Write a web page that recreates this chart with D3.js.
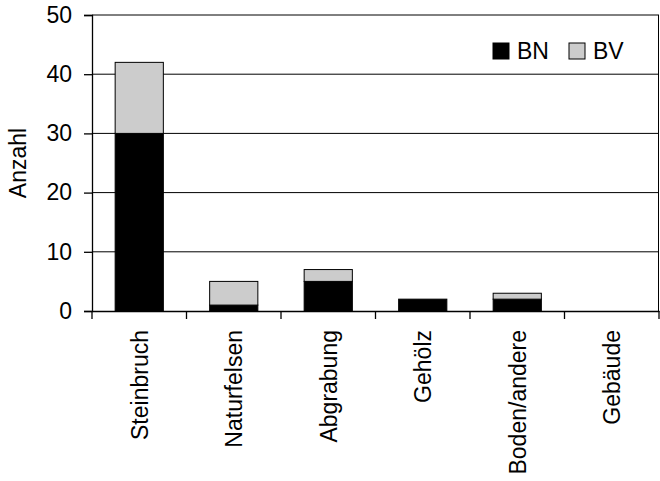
<!DOCTYPE html>
<html>
<head>
<meta charset="utf-8">
<script src="https://cdn.jsdelivr.net/npm/d3@7"></script>
<style>
  body { margin: 0; background: #fff; }
  text { font-family: "Liberation Sans", Arial, sans-serif; fill: #000; }
</style>
</head>
<body>
<div id="chart"></div>
<script>
// chart data
const categories = ['Steinbruch', 'Naturfelsen', 'Abgrabung', 'Gehölz', 'Boden/andere', 'Gebäude'];
const bnValues = [30, 1, 5, 2, 2, 0];
const bvValues = [12, 4, 2, 0, 1, 0];
const yTicks = [0, 10, 20, 30, 40, 50];
const seriesNames = ['BN', 'BV'];
const seriesColors = ['#000000', '#cccccc'];

const width = 660, height = 481;
const margin = {top: 15, right: 1, bottom: 170, left: 92};
const fontSize = 23;

const svg = d3.select('#chart')
    .append('svg')
    .attr('width', width)
    .attr('height', height);

const x = d3.scaleBand()
    .domain(categories)
    .range([margin.left, width - margin.right])
    .paddingInner(0.49)
    .paddingOuter(0.245);

const y = d3.scaleLinear()
    .domain([0, 50])
    .range([height - margin.bottom, margin.top]);

// gridlines
svg.append('g')
    .selectAll('line')
    .data(yTicks.filter((d) => d > 0))
    .join('line')
    .attr('x1', margin.left)
    .attr('x2', width - margin.right)
    .attr('y1', (d) => y(d))
    .attr('y2', (d) => y(d))
    .attr('stroke', '#000')
    .attr('stroke-width', 1);

// right border
svg.append('line')
    .attr('x1', width - margin.right - 0.5)
    .attr('x2', width - margin.right - 0.5)
    .attr('y1', y(50))
    .attr('y2', y(0))
    .attr('stroke', '#000');

// stacked bars
const rows = categories.map((c, i) => ({cat: c, BN: bnValues[i], BV: bvValues[i]}));
const stack = d3.stack().keys(seriesNames)(rows);

stack.forEach((layer, k) => {
    svg.append('g')
        .selectAll('rect')
        .data(layer.filter((d) => d[1] - d[0] > 0))
        .join('rect')
        .attr('x', (d) => x(d.data.cat))
        .attr('width', x.bandwidth())
        .attr('y', (d) => y(d[1]))
        .attr('height', (d) => y(d[0]) - y(d[1]))
        .attr('fill', seriesColors[k])
        .attr('stroke', '#000')
        .attr('stroke-width', 1);
});

// y axis
const yAxis = svg.append('g')
    .attr('transform', `translate(${margin.left},0)`)
    .call(d3.axisLeft(y).tickValues(yTicks).tickSize(8).tickPadding(12));
yAxis.select('.domain').attr('stroke', '#000').attr('stroke-width', 1.3);
yAxis.selectAll('.tick line').attr('stroke', '#000').attr('stroke-width', 1.3);
yAxis.selectAll('text').attr('font-size', fontSize).attr('font-family', null);

// x axis
const xAxis = svg.append('g')
    .attr('transform', `translate(0,${y(0)})`)
    .call(d3.axisBottom(x).tickSize(0).tickFormat(''));
xAxis.select('.domain').attr('stroke', '#000').attr('stroke-width', 1.3);

// category boundary ticks
const step = x.step();
svg.append('g')
    .selectAll('line')
    .data(d3.range(categories.length + 1))
    .join('line')
    .attr('x1', (i) => margin.left + i * step)
    .attr('x2', (i) => margin.left + i * step)
    .attr('y1', y(0))
    .attr('y2', y(0) + 8)
    .attr('stroke', '#000')
    .attr('stroke-width', 1.3);

// category labels
svg.append('g')
    .selectAll('text')
    .data(categories)
    .join('text')
    .attr('transform', (d) => `translate(${x(d) + x.bandwidth() / 2 + 8.5},${y(0) + 19}) rotate(-90)`)
    .attr('text-anchor', 'end')
    .attr('font-size', fontSize)
    .text((d) => d);

// y title
svg.append('text')
    .attr('transform', `translate(26,${(y(0) + y(50)) / 2}) rotate(-90)`)
    .attr('text-anchor', 'middle')
    .attr('font-size', fontSize)
    .text('Anzahl');

// legend
const legend = svg.append('g');
const legendX = [493, 569];
seriesNames.forEach((name, k) => {
    legend.append('rect')
        .attr('x', legendX[k])
        .attr('y', 43)
        .attr('width', 16)
        .attr('height', 16)
        .attr('fill', seriesColors[k])
        .attr('stroke', '#000')
        .attr('stroke-width', 1);
    legend.append('text')
        .attr('x', legendX[k] + 24)
        .attr('y', 59)
        .attr('font-size', fontSize)
        .text(name);
});
</script>
</body>
</html>
